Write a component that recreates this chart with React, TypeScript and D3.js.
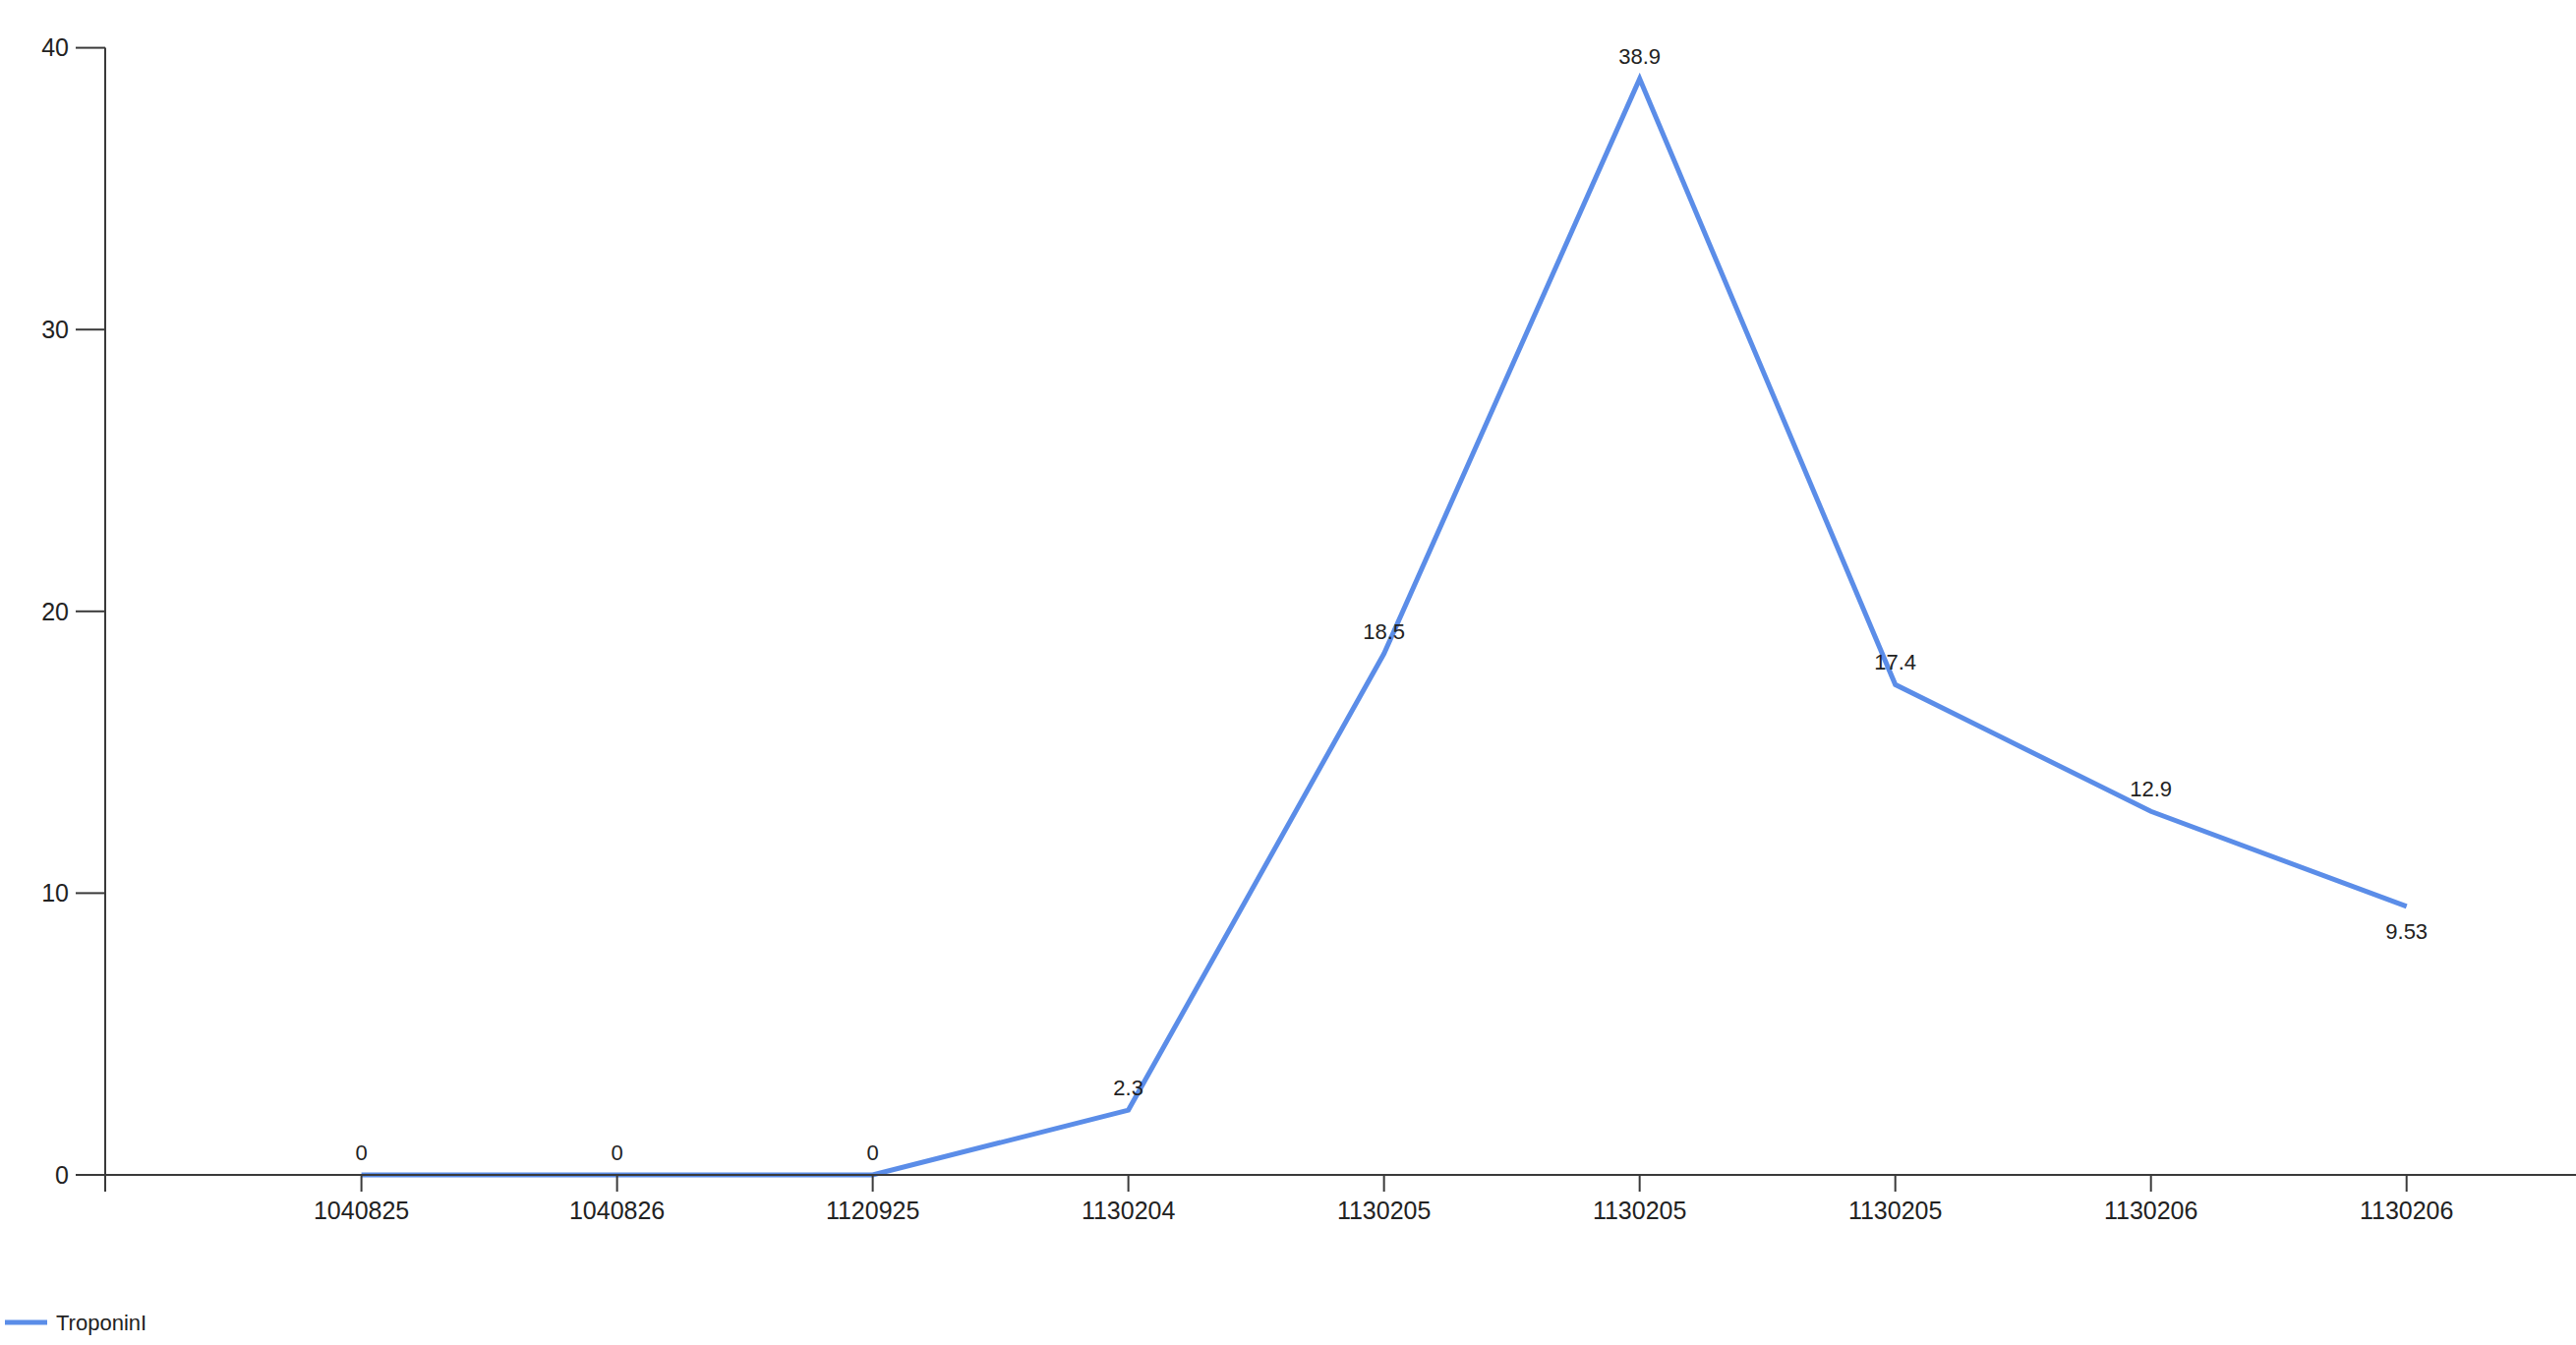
import React from "react";
import * as d3 from "d3";

const categories: string[] = ["1040825", "1040826", "1120925", "1130204", "1130205", "1130205", "1130205", "1130206", "1130206"];
const values: number[] = [0, 0, 0, 2.3, 18.5, 38.9, 17.4, 12.9, 9.53];
const valueLabels: string[] = ["0", "0", "0", "2.3", "18.5", "38.9", "17.4", "12.9", "9.53"];
const yTicks: number[] = [0, 10, 20, 30, 40];
const seriesName = "TroponinI";

const W = 2620;
const H = 1368;
const axisX = 107;
const axisY = 1195;
const lineColor = "#5B8DE8";
const axisColor = "#3a3a3a";
const font = "'Liberation Sans', Arial, sans-serif";

export default function App() {
  const x = d3.scaleLinear().domain([1, 9]).range([367.6, 2447.7]);
  const y = d3.scaleLinear().domain([0, 40]).range([axisY, 48.6]);
  const line = d3
    .line<number>()
    .x((_, i) => x(i + 1))
    .y((d) => y(d));
  const pathD = line(values) || "";

  return (
    <svg
      width={W}
      height={H}
      style={{ position: "absolute", left: 0, top: 0, display: "block", background: "#fff" }}
    >
      <rect x={0} y={0} width={W} height={H} fill="#fff" />
      {/* series line */}
      <path d={pathD} fill="none" stroke={lineColor} strokeWidth={5} strokeLinejoin="miter" />
      {/* y axis */}
      <line x1={axisX} y1={y(40)} x2={axisX} y2={axisY + 17} stroke={axisColor} strokeWidth={2} />
      {yTicks.map((t) => (
        <g key={"yt" + t}>
          <line x1={axisX - 30} x2={axisX} y1={y(t)} y2={y(t)} stroke={axisColor} strokeWidth={2} />
          <text
            x={axisX - 37}
            y={y(t)}
            dy="0.35em"
            textAnchor="end"
            fontFamily={font}
            fontSize={25}
            fill="#222"
          >
            {t}
          </text>
        </g>
      ))}
      {/* x axis */}
      <line x1={axisX - 30} y1={axisY} x2={W} y2={axisY} stroke={axisColor} strokeWidth={2} />
      {categories.map((c, i) => (
        <g key={"xt" + i}>
          <line x1={x(i + 1)} x2={x(i + 1)} y1={axisY} y2={axisY + 17} stroke={axisColor} strokeWidth={2} />
          <text
            x={x(i + 1)}
            y={axisY + 45}
            textAnchor="middle"
            fontFamily={font}
            fontSize={25}
            fill="#222"
          >
            {c}
          </text>
        </g>
      ))}
      {/* data labels */}
      {values.map((v, i) => {
        const below = i === values.length - 1;
        return (
          <text
            key={"dl" + i}
            x={x(i + 1)}
            y={below ? y(v) + 33 : y(v) - 15}
            textAnchor="middle"
            fontFamily={font}
            fontSize={22}
            fill="#222"
          >
            {valueLabels[i]}
          </text>
        );
      })}
      {/* legend */}
      <line x1={5} x2={48} y1={1345} y2={1345} stroke={lineColor} strokeWidth={5} />
      <text x={57} y={1345} dy="0.35em" fontFamily={font} fontSize={22} fill="#222">
        {seriesName}
      </text>
    </svg>
  );
}
